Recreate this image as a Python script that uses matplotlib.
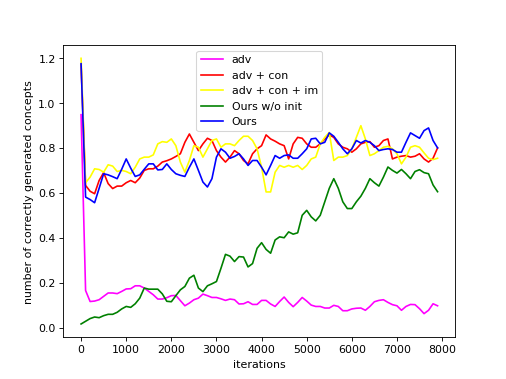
import matplotlib
matplotlib.use("Agg")
import matplotlib.pyplot as plt
import numpy as np

iterations = list(range(0, 8000, 100))

adv = [0.948, 0.165, 0.116, 0.118, 0.124, 0.139, 0.154, 0.154, 0.151, 0.161,
       0.172, 0.173, 0.186, 0.186, 0.176, 0.161, 0.146, 0.127, 0.127, 0.133,
       0.142, 0.143, 0.120, 0.097, 0.109, 0.124, 0.131, 0.149, 0.142, 0.134,
       0.134, 0.128, 0.121, 0.127, 0.124, 0.105, 0.106, 0.115, 0.103, 0.103,
       0.121, 0.121, 0.105, 0.094, 0.116, 0.136, 0.112, 0.093, 0.112, 0.134,
       0.118, 0.100, 0.094, 0.094, 0.087, 0.087, 0.099, 0.094, 0.075, 0.075,
       0.083, 0.086, 0.087, 0.077, 0.094, 0.115, 0.121, 0.124, 0.112, 0.102,
       0.097, 0.077, 0.094, 0.103, 0.102, 0.084, 0.062, 0.077, 0.106, 0.097]

adv_con = [1.17, 0.633, 0.607, 0.596, 0.655, 0.690, 0.641, 0.619, 0.630, 0.630,
           0.645, 0.655, 0.645, 0.666, 0.700, 0.707, 0.707, 0.719, 0.737, 0.743,
           0.751, 0.762, 0.774, 0.825, 0.862, 0.825, 0.788, 0.818, 0.843, 0.833,
           0.788, 0.759, 0.737, 0.759, 0.788, 0.774, 0.744, 0.729, 0.774, 0.796,
           0.810, 0.858, 0.840, 0.830, 0.818, 0.810, 0.751, 0.818, 0.847, 0.843,
           0.818, 0.803, 0.803, 0.818, 0.840, 0.858, 0.847, 0.818, 0.803, 0.796,
           0.781, 0.796, 0.818, 0.825, 0.828, 0.803, 0.810, 0.833, 0.840, 0.751,
           0.759, 0.763, 0.766, 0.759, 0.763, 0.774, 0.751, 0.737, 0.754, 0.800]

adv_con_im = [1.199, 0.645, 0.670, 0.707, 0.704, 0.692, 0.725, 0.719, 0.695, 0.700,
              0.695, 0.685, 0.714, 0.751, 0.759, 0.759, 0.769, 0.818, 0.828, 0.825,
              0.840, 0.810, 0.737, 0.692, 0.744, 0.810, 0.803, 0.759, 0.796, 0.833,
              0.840, 0.803, 0.818, 0.818, 0.810, 0.833, 0.852, 0.852, 0.833, 0.796,
              0.714, 0.604, 0.604, 0.692, 0.722, 0.714, 0.722, 0.714, 0.722, 0.704,
              0.722, 0.751, 0.759, 0.818, 0.847, 0.869, 0.744, 0.759, 0.759, 0.766,
              0.796, 0.847, 0.899, 0.840, 0.766, 0.774, 0.788, 0.803, 0.807, 0.796,
              0.774, 0.729, 0.759, 0.803, 0.810, 0.803, 0.778, 0.754, 0.748, 0.754]

ours_wo_init = [0.016, 0.028, 0.040, 0.047, 0.044, 0.053, 0.059, 0.059, 0.068, 0.083,
                0.094, 0.090, 0.106, 0.131, 0.176, 0.171, 0.171, 0.171, 0.150, 0.117,
                0.115, 0.142, 0.168, 0.183, 0.220, 0.233, 0.176, 0.160, 0.186, 0.195,
                0.205, 0.264, 0.326, 0.318, 0.294, 0.316, 0.314, 0.270, 0.285, 0.353,
                0.378, 0.348, 0.331, 0.390, 0.404, 0.400, 0.426, 0.416, 0.422, 0.500,
                0.522, 0.493, 0.475, 0.500, 0.560, 0.620, 0.663, 0.620, 0.560, 0.530,
                0.530, 0.560, 0.585, 0.620, 0.663, 0.645, 0.630, 0.670, 0.715, 0.700,
                0.688, 0.704, 0.685, 0.663, 0.695, 0.703, 0.690, 0.685, 0.635, 0.605]

ours = [1.175, 0.581, 0.570, 0.556, 0.620, 0.685, 0.680, 0.672, 0.663, 0.705,
        0.751, 0.710, 0.673, 0.680, 0.705, 0.729, 0.729, 0.702, 0.704, 0.729,
        0.704, 0.685, 0.678, 0.673, 0.714, 0.751, 0.700, 0.648, 0.626, 0.663,
        0.759, 0.796, 0.781, 0.754, 0.762, 0.774, 0.751, 0.722, 0.744, 0.744,
        0.714, 0.680, 0.722, 0.766, 0.754, 0.766, 0.769, 0.754, 0.754, 0.774,
        0.796, 0.840, 0.843, 0.818, 0.825, 0.867, 0.852, 0.825, 0.796, 0.774,
        0.796, 0.833, 0.822, 0.833, 0.825, 0.810, 0.788, 0.793, 0.796, 0.793,
        0.781, 0.781, 0.825, 0.867, 0.855, 0.843, 0.877, 0.889, 0.833, 0.800]

labels = ["adv", "adv + con", "adv + con + im", "Ours w/o init", "Ours"]
colors = ["magenta", "red", "yellow", "green", "blue"]
series = [adv, adv_con, adv_con_im, ours_wo_init, ours]

fig, ax = plt.subplots(figsize=(6.4, 4.8), dpi=79.0625)
for s, lab, c in zip(series, labels, colors):
    ax.plot(iterations, s, color=c, label=lab)
ax.set_xlabel("iterations")
ax.set_ylabel("number of correctly generated concepts")
ax.legend(loc="upper center")
fig.savefig("out.png", dpi=79.0625)
